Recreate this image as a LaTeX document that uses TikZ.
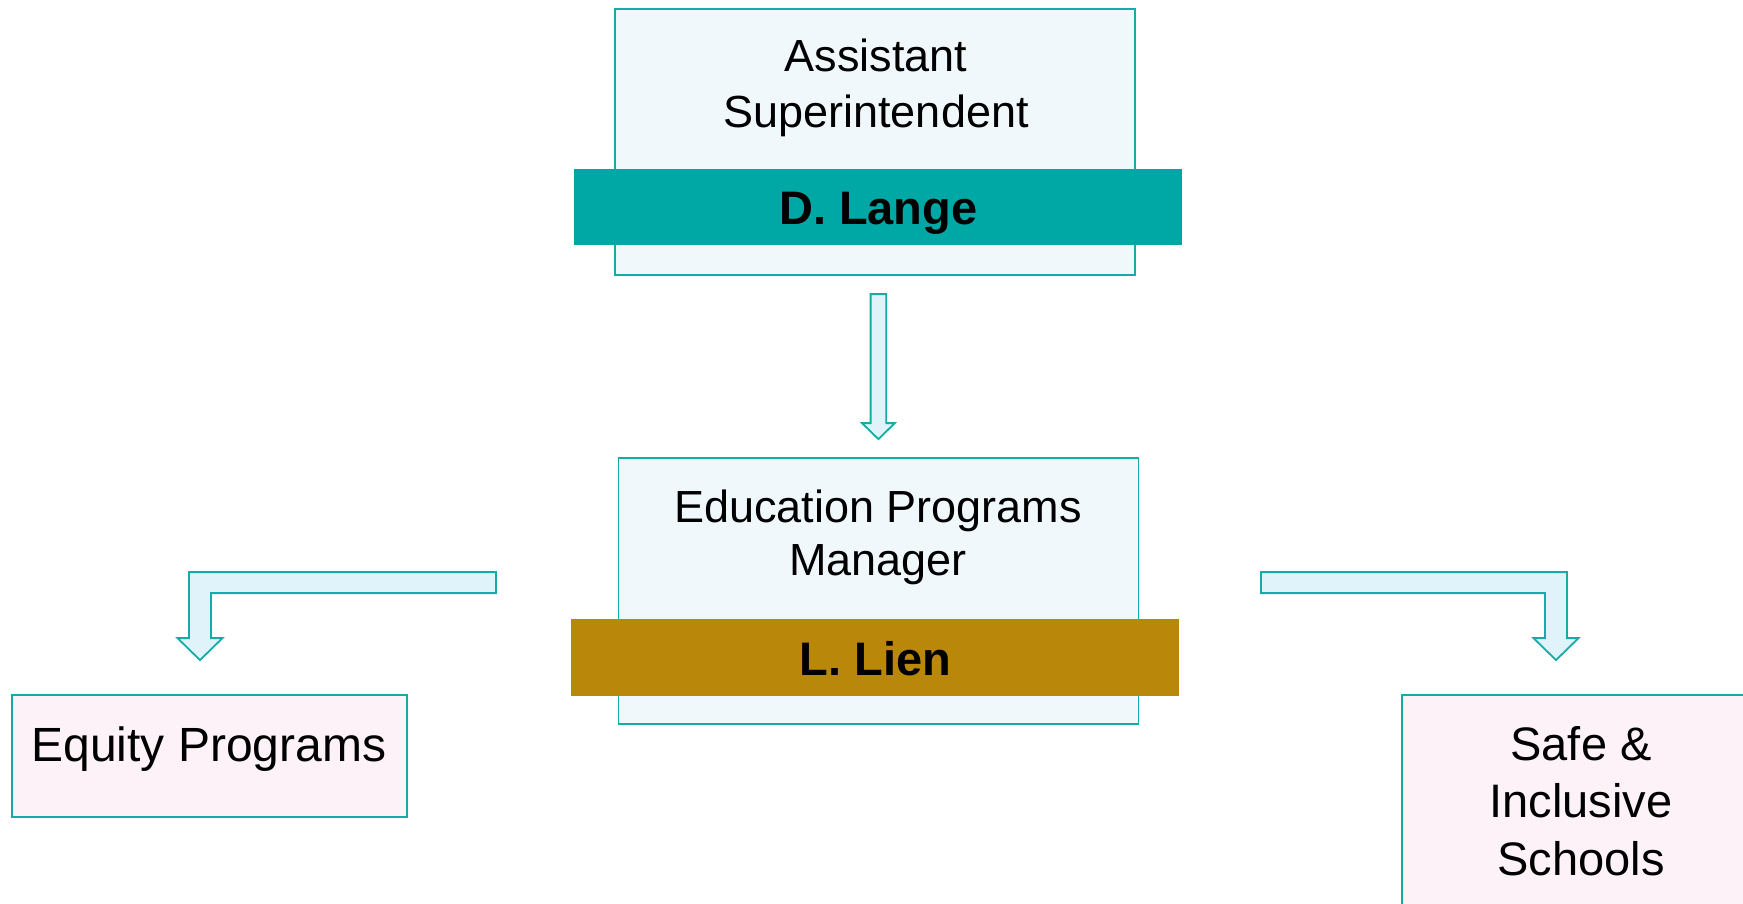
\documentclass[tikz,border=0pt]{standalone}
\usepackage{fontspec}
\setmainfont{Liberation Sans}
\usetikzlibrary{positioning,calc}

\definecolor{edgeteal}{RGB}{22,171,166}
\definecolor{langeteal}{RGB}{0,168,165}
\definecolor{liengold}{RGB}{185,136,10}
\definecolor{cardblue}{RGB}{240,248,252}
\definecolor{arrowblue}{RGB}{224,243,250}
\definecolor{unitpink}{RGB}{252,242,247}

\tikzset{
  card/.style       = {draw=edgeteal, line width=1.8pt, inner sep=0pt},
  staff card/.style = {card, fill=cardblue, minimum width=520, minimum height=266},
  unit card/.style  = {card, fill=unitpink},
  name band/.style  = {fill=#1, inner sep=0pt, minimum width=608, minimum height=76,
                       text height=36, text depth=0,
                       font=\bfseries\fontsize{47}{50}\selectfont},
  title/.style      = {align=center, inner sep=0pt},
  block arrow/.style= {draw=edgeteal, fill=arrowblue, line width=1.8pt, line join=miter}
}

\begin{document}
\begin{tikzpicture}[x=1pt, y=-1pt]
  \useasboundingbox (0,0) rectangle (1743,904);
  \clip (0,0) rectangle (1743,904);

  % assistant superintendent
  \node[staff card] (asst card) at (875.3,142) {};
  \node[name band=langeteal] (asst name) at (878.3,207) {D. Lange};
  \node[title, font=\fontsize{45}{56}\selectfont] (asst title) at (876,88)
    {Assistant\\Superintendent};

  % programs manager
  \node[staff card] (mgr card) at (878.4,591) {};
  \node[name band=liengold, minimum height=77] (mgr name) at (875.3,657.5) {L. Lien};
  \node[title, font=\fontsize{45}{53}\selectfont] (mgr title) at (878,537)
    {Education Programs\\Manager};

  % units below the manager
  \node[unit card, minimum width=395, minimum height=122] (equity card) at (209.5,756) {};
  \node[title, anchor=base, font=\fontsize{48}{57}\selectfont] (equity title) at (209,761)
    {Equity Programs};
  \node[unit card, minimum width=358, minimum height=245] (safety card) at (1581,817.5) {};
  \node[title, font=\fontsize{47}{57.5}\selectfont] (safety title) at (1581,801)
    {Safe \&\\Inclusive\\Schools};

  \coordinate (down tip)   at ($(mgr card.north)+(0,-18)$);
  \coordinate (equity tip) at ($(equity card.north)+(-9.5,-34)$);
  \coordinate (safety tip) at ($(safety card.north)+(-25,-34)$);

  % block arrows
  \draw[block arrow] (down tip) -- ++(-16.4,-16) -- ++(8.6,0) -- ++(0,-129)
    -- ++(15.6,0) -- ++(0,129) -- ++(8.6,0) -- cycle;
  \draw[block arrow] (equity tip) -- ++(-22.5,-22) -- ++(11.5,0) -- ++(0,-66)
    -- ++(307,0) -- ++(0,21) -- ++(-285,0) -- ++(0,45) -- ++(11.5,0) -- cycle;
  \draw[block arrow] (safety tip) -- ++(22.5,-22) -- ++(-11.5,0) -- ++(0,-66)
    -- ++(-306,0) -- ++(0,21) -- ++(284,0) -- ++(0,45) -- ++(-11.5,0) -- cycle;
\end{tikzpicture}
\end{document}
